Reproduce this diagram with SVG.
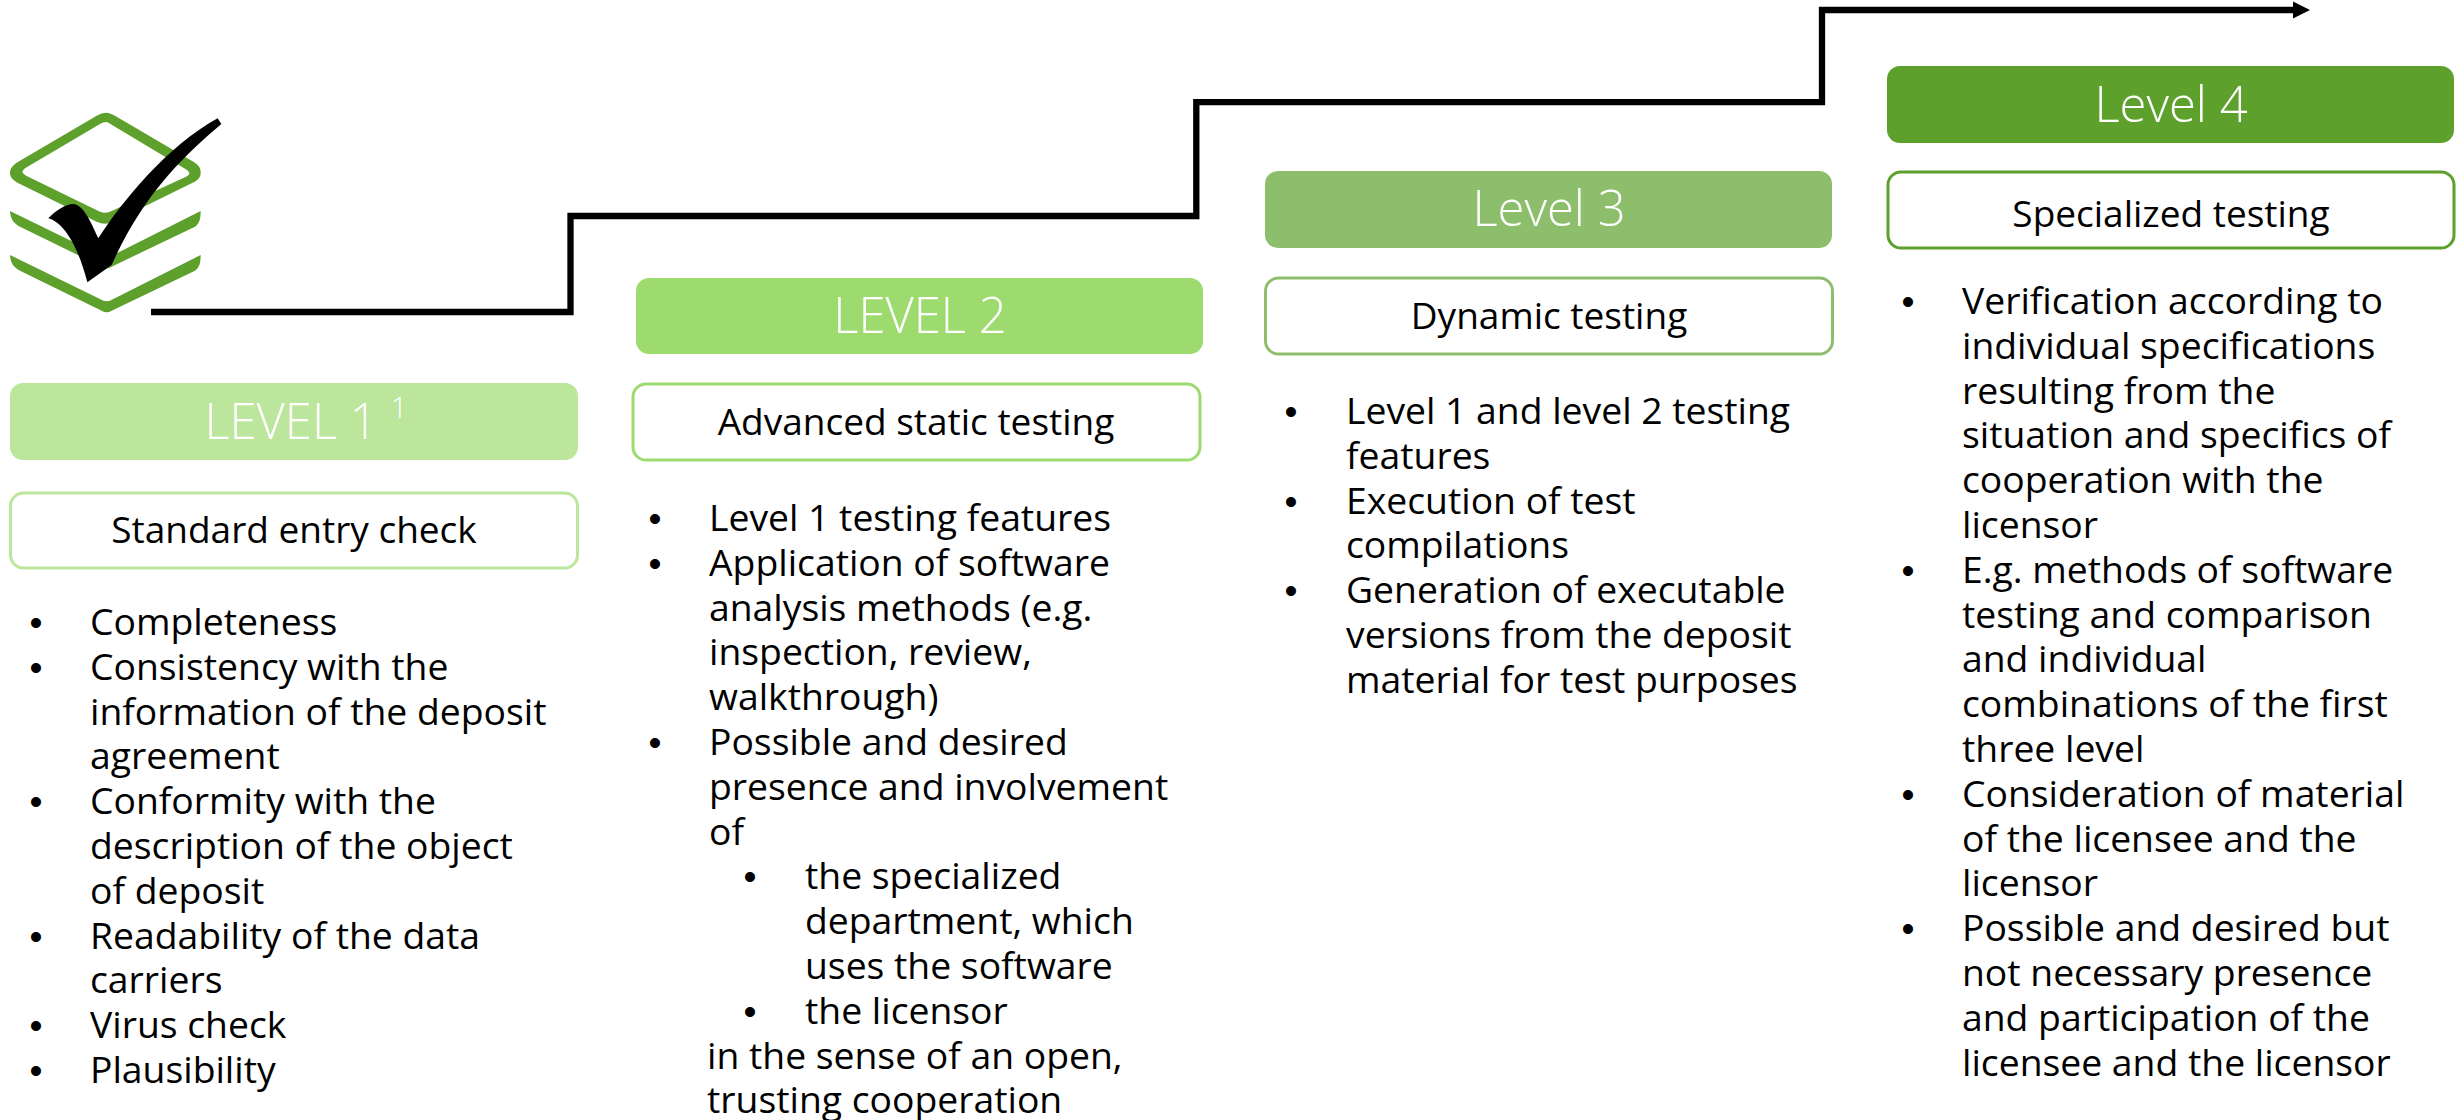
<svg xmlns="http://www.w3.org/2000/svg" width="2459" height="1120" viewBox="0 0 2459 1120">
<style>
text{font-family:"Open Sans","DejaVu Sans",sans-serif;fill:#000}
.b{font-size:37.300px}
.s{font-size:37px;text-anchor:middle}
.h{font-size:49px;font-weight:300;fill:#fff;text-anchor:middle}
.d{font-family:"Liberation Sans",sans-serif;font-size:37px;text-anchor:middle}
.sb{fill:#fff;stroke-width:3}
.c{fill:none;stroke:#000;stroke-width:6.300}
</style>
<defs>
<marker id="arrow" markerUnits="userSpaceOnUse" markerWidth="18" markerHeight="18" refX="1" refY="9" orient="auto"><path d="M0,0.5L17,9L0,17.500Z" fill="#000"/></marker>
<path id="chev" d="M30,615C32,638 38,650 60,662L305,782Q320,792 335,782L585,662C598,652 602,640 602,615L340,747Q320,760 300,747Z"/>
</defs>
<rect width="2459" height="1120" fill="#fff"/>
<g id="icon">
<g transform="translate(0 50) scale(.33333)" fill="#5da02b">
<path fill-rule="evenodd" d="M318,188Q330,188 350,200L580,335C600,348 602,355 602,368C602,382 595,390 575,400L340,515Q315,528 290,515L60,402C38,390 30,382 30,368C30,355 38,345 60,332L290,197Q305,188 318,188ZM318,216Q310,216 300,222L75,355Q66,362 68,368Q70,372 80,378L300,485Q315,492 330,485L555,382Q568,376 568,370Q568,364 555,356L335,224Q325,216 318,216Z"/>
<use href="#chev" y="-132"/>
<use href="#chev"/>
<path fill="#000" d="M653,205L664,222C560,310 430,430 335,645L262,697C240,610 200,520 145,505C170,480 195,463 220,462C250,465 270,510 295,565C370,450 500,290 653,205Z"/>
</g>
</g>
<g id="connectors">
<path class="c" marker-end="url(#arrow)" d="M151,312H570.500V216H1196.300V102.200H1822V10H2294"/>
</g>
<g id="level1">
<rect x="10" y="383" width="568" height="77" rx="13" fill="#bce69b"/>
<text class="h" x="306" y="439">LEVEL 1 <tspan font-size="30" dy="-21">1</tspan></text>
<rect class="sb" x="10.500" y="493" width="567" height="75" rx="13" stroke="#bce69b"/>
<text class="s" x="294" y="543">Standard entry check</text>
<text class="d" x="36" y="635">•</text><text class="b" x="90" y="635">Completeness</text>
<text class="d" x="36" y="679.800">•</text><text class="b" x="90" y="679.800">Consistency with the</text>
<text class="b" x="90" y="724.600">information of the deposit</text>
<text class="b" x="90" y="769.400">agreement</text>
<text class="d" x="36" y="814.200">•</text><text class="b" x="90" y="814.200">Conformity with the</text>
<text class="b" x="90" y="859">description of the object</text>
<text class="b" x="90" y="903.800">of deposit</text>
<text class="d" x="36" y="948.600">•</text><text class="b" x="90" y="948.600">Readability of the data</text>
<text class="b" x="90" y="993.400">carriers</text>
<text class="d" x="36" y="1038.200">•</text><text class="b" x="90" y="1038.200">Virus check</text>
<text class="d" x="36" y="1083">•</text><text class="b" x="90" y="1083">Plausibility</text>
</g>
<g id="level2">
<rect x="636" y="278" width="567" height="76" rx="13" fill="#9ddb6f"/>
<text class="h" x="920" y="333">LEVEL 2</text>
<rect class="sb" x="633" y="384" width="567" height="76" rx="13" stroke="#9ddb6f"/>
<text class="s" x="916" y="435">Advanced static testing</text>
<text class="d" x="655" y="531">•</text><text class="b" x="709" y="531">Level 1 testing features</text>
<text class="d" x="655" y="575.800">•</text><text class="b" x="709" y="575.800">Application of software</text>
<text class="b" x="709" y="620.600">analysis methods (e.g.</text>
<text class="b" x="709" y="665.400">inspection, review,</text>
<text class="b" x="709" y="710.200">walkthrough)</text>
<text class="d" x="655" y="755">•</text><text class="b" x="709" y="755">Possible and desired</text>
<text class="b" x="709" y="799.800">presence and involvement</text>
<text class="b" x="709" y="844.600">of</text>
<text class="d" x="750" y="889.400">•</text><text class="b" x="805" y="889.400">the specialized</text>
<text class="b" x="805" y="934.200">department, which</text>
<text class="b" x="805" y="979">uses the software</text>
<text class="d" x="750" y="1023.800">•</text><text class="b" x="805" y="1023.800">the licensor</text>
<text class="b" x="707" y="1068.600">in the sense of an open,</text>
<text class="b" x="707" y="1113.400">trusting cooperation</text>
</g>
<g id="level3">
<rect x="1265" y="171" width="567" height="77" rx="13" fill="#8dbe6c"/>
<text class="h" x="1549" y="226">Level 3</text>
<rect class="sb" x="1265.500" y="278" width="567" height="76" rx="13" stroke="#8dbe6c"/>
<text class="s" x="1549" y="329">Dynamic testing</text>
<text class="d" x="1291" y="424">•</text><text class="b" x="1346" y="424">Level 1 and level 2 testing</text>
<text class="b" x="1346" y="468.800">features</text>
<text class="d" x="1291" y="513.600">•</text><text class="b" x="1346" y="513.600">Execution of test</text>
<text class="b" x="1346" y="558.400">compilations</text>
<text class="d" x="1291" y="603.200">•</text><text class="b" x="1346" y="603.200">Generation of executable</text>
<text class="b" x="1346" y="648">versions from the deposit</text>
<text class="b" x="1346" y="692.800">material for test purposes</text>
</g>
<g id="level4">
<rect x="1887" y="66" width="567" height="77" rx="13" fill="#5da02b"/>
<text class="h" x="2171" y="122">Level 4</text>
<rect class="sb" x="1888" y="172" width="566" height="76" rx="13" stroke="#5da02b"/>
<text class="s" x="2171" y="227">Specialized testing</text>
<text class="d" x="1908" y="314">•</text><text class="b" x="1962" y="314">Verification according to</text>
<text class="b" x="1962" y="358.800">individual specifications</text>
<text class="b" x="1962" y="403.600">resulting from the</text>
<text class="b" x="1962" y="448.400">situation and specifics of</text>
<text class="b" x="1962" y="493.200">cooperation with the</text>
<text class="b" x="1962" y="538">licensor</text>
<text class="d" x="1908" y="582.800">•</text><text class="b" x="1962" y="582.800">E.g. methods of software</text>
<text class="b" x="1962" y="627.600">testing and comparison</text>
<text class="b" x="1962" y="672.400">and individual</text>
<text class="b" x="1962" y="717.200">combinations of the first</text>
<text class="b" x="1962" y="762">three level</text>
<text class="d" x="1908" y="806.800">•</text><text class="b" x="1962" y="806.800">Consideration of material</text>
<text class="b" x="1962" y="851.600">of the licensee and the</text>
<text class="b" x="1962" y="896.400">licensor</text>
<text class="d" x="1908" y="941.200">•</text><text class="b" x="1962" y="941.200">Possible and desired but</text>
<text class="b" x="1962" y="986">not necessary presence</text>
<text class="b" x="1962" y="1030.800">and participation of the</text>
<text class="b" x="1962" y="1075.600">licensee and the licensor</text>
</g>
</svg>
